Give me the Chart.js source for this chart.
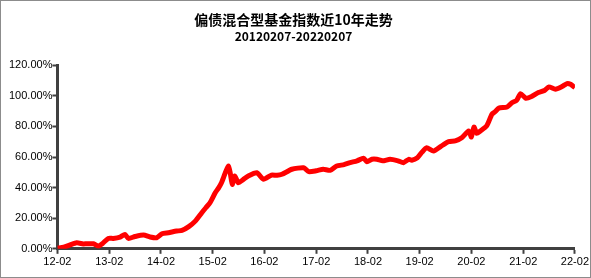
<!DOCTYPE html>
<html>
<head>
<meta charset="utf-8">
<script src="https://cdn.jsdelivr.net/npm/chart.js@4/dist/chart.umd.min.js"></script>
<style>
html,body{margin:0;padding:0;background:#fff;}
#wrap{width:591px;height:278px;position:relative;}
</style>
</head>
<body>
<div id="wrap"><canvas id="c" width="591" height="278"></canvas></div>
<script>
const titleText = '偏债混合型基金指数近10年走势';
const subtitleText = '20120207-20220207';

const dates = [
 '2012-02-07','2012-03-22','2012-05-07','2012-06-22','2012-08-07','2012-08-31','2012-10-19','2012-11-22','2012-12-22',
 '2013-01-31','2013-03-07','2013-04-25','2013-05-28','2013-06-22','2013-08-07','2013-10-07','2013-11-22',
 '2014-01-07','2014-02-14','2014-04-01','2014-05-28','2014-07-05','2014-08-22','2014-10-07','2014-11-22','2014-12-22',
 '2015-01-19','2015-02-25','2015-03-22','2015-04-10','2015-05-03','2015-05-28','2015-06-10','2015-06-25','2015-07-13','2015-08-07','2015-09-07','2015-10-16','2015-12-16',
 '2016-01-31','2016-03-28','2016-05-07','2016-06-10','2016-08-19','2016-11-10','2016-12-16',
 '2017-02-07','2017-03-28','2017-05-16','2017-07-01','2017-08-22','2017-10-04','2017-11-22',
 '2018-01-07','2018-01-31','2018-03-07','2018-04-10','2018-05-22','2018-07-13','2018-09-07','2018-10-16','2018-11-22','2018-12-13',
 '2019-01-22','2019-02-22','2019-03-28','2019-05-16','2019-07-07','2019-08-31','2019-10-16','2019-12-01',
 '2020-01-19','2020-02-07','2020-02-25','2020-03-16','2020-04-10','2020-05-25','2020-07-01','2020-07-22','2020-08-19','2020-10-16','2020-11-19','2020-12-22',
 '2021-01-19','2021-02-25','2021-04-07','2021-05-25','2021-07-07','2021-08-07','2021-09-22','2021-11-07','2021-12-13',
 '2022-01-07','2022-02-07'
];

const values = [
 0.5,1.0,2.5,3.9,3.2,3.3,3.3,1.8,3.5,
 6.8,6.8,7.7,9.4,6.8,8.0,9.0,7.7,
 7.2,9.8,10.5,11.6,12.0,14.5,18.1,23.6,27.0,
 30.1,36.6,40.0,43.2,48.7,54.1,50.0,42.1,47.6,43.2,45.0,47.6,49.7,
 45.4,48.2,48.0,48.7,52.0,53.0,50.4,
 51.0,52.0,51.3,54.1,55.0,56.3,57.5,
 59.2,56.9,58.5,58.5,57.5,58.5,57.5,56.3,58.5,57.9,
 59.5,63.0,66.1,63.9,67.0,70.0,70.5,72.6,
 77.0,73.1,79.6,75.5,77.0,80.3,88.0,89.5,91.9,92.7,95.5,97.0,
 101.4,98.4,99.5,102.1,103.5,105.8,104.3,106.0,108.0,
 107.5,105.4
];

const tickDates = ['2012-02-07','2013-02-07','2014-02-07','2015-02-07','2016-02-07','2017-02-07','2018-02-07','2019-02-07','2020-02-07','2021-02-07','2022-02-07'];
const tickLabels = ['12-02','13-02','14-02','15-02','16-02','17-02','18-02','19-02','20-02','21-02','22-02'];
const yTicks = [0,20,40,60,80,100,120];

function toMs(s){const p=s.split('-').map(Number);return Date.UTC(p[0],p[1]-1,p[2]);}
const tickMs = tickDates.map(toMs);
const points = dates.map((d,i)=>({x:toMs(d), y:values[i]}));

const frame = {
  id:'frame',
  beforeDraw(chart){
    const ctx=chart.ctx;
    ctx.save();
    ctx.fillStyle='#fff';
    ctx.fillRect(0,0,chart.width,chart.height);
    ctx.restore();
  },
  afterDraw(chart){
    const ctx=chart.ctx;
    ctx.save();
    ctx.strokeStyle='#8c8c8c';
    ctx.lineWidth=1;
    ctx.strokeRect(0.5,0.5,chart.width-1,chart.height-1);
    ctx.restore();
  }
};

new Chart(document.getElementById('c'),{
  type:'line',
  data:{datasets:[{
    data:points,
    borderColor:'#ff0000',
    backgroundColor:'#ff0000',
    borderWidth:5,
    pointRadius:0,
    tension:0.2,
    fill:false
  }]},
  options:{
    responsive:false,
    animation:false,
    layout:{padding:{left:9,right:13,top:0,bottom:7}},
    plugins:{
      legend:{display:false},
      tooltip:{enabled:false},
      title:{display:true,text:titleText,color:'#000',
        font:{family:'"Noto Sans CJK SC", sans-serif',size:14,weight:'bold'},
        padding:{top:11,bottom:0}},
      subtitle:{display:true,text:subtitleText,color:'#000',
        font:{family:'"Noto Sans CJK SC", sans-serif',size:12,weight:'bold'},
        padding:{top:1,bottom:22}}
    },
    scales:{
      x:{
        type:'linear',
        min:tickMs[0],
        max:tickMs[tickMs.length-1],
        afterBuildTicks(scale){scale.ticks=tickMs.map(v=>({value:v}));},
        ticks:{
          autoSkip:false,maxRotation:0,padding:2,color:'#000',
          font:{family:'"Liberation Sans", Arial, sans-serif',size:11},
          callback(v,i){return tickLabels[i];}
        },
        grid:{display:true,drawOnChartArea:false,drawTicks:true,tickLength:5,tickWidth:2,tickColor:'#404040'},
        border:{display:true,color:'#404040',width:3}
      },
      y:{
        min:0,max:120,
        afterBuildTicks(scale){scale.ticks=yTicks.map(v=>({value:v}));},
        ticks:{
          padding:0,color:'#000',
          font:{family:'"Liberation Sans", Arial, sans-serif',size:11},
          callback(v){return Number(v).toFixed(2)+'%';}
        },
        grid:{display:true,drawOnChartArea:false,drawTicks:true,tickLength:5,tickWidth:2,tickColor:'#404040'},
        border:{display:true,color:'#404040',width:3}
      }
    }
  },
  plugins:[frame]
});
</script>
</body>
</html>
